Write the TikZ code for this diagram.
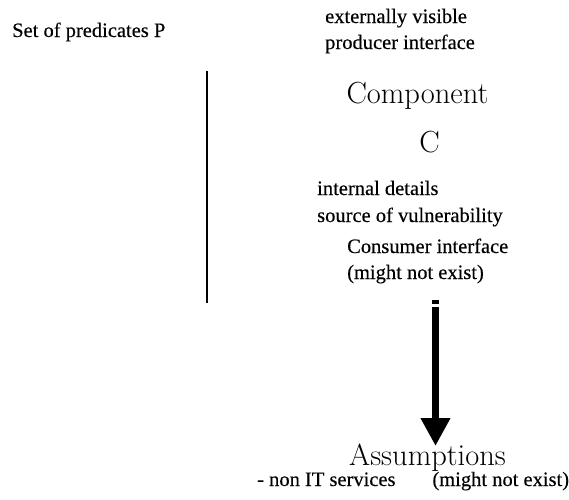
\documentclass[tikz,border=0pt]{standalone}
\usepackage{fontspec}
\newfontfamily\smallserif[FakeBold=0.3]{Liberation Serif}
\usetikzlibrary{arrows.meta}
\tikzset{
  smalltext/.style={inner sep=0pt, anchor=base west, align=left,
    font=\smallserif\fontsize{20.5}{26}\selectfont},
  bigtext/.style={inner sep=0pt, anchor=base,
    font=\fontsize{30.5}{36}\selectfont},
  bar/.style={line width=1.5pt},
  bigarrow/.style={line width=7pt, -{Triangle[width=28pt,length=28pt]}}
}
\begin{document}
\begin{tikzpicture}[x=1pt,y=-1pt]
\useasboundingbox (0,0) rectangle (569,499);
\node[smalltext] (preds) at (12,37) {Set of predicates P};
\node[smalltext] (ext1) at (325,23) {externally visible};
\node[smalltext] (ext2) at (325,49) {producer interface};
\node[bigtext] (comp) at (417.5,103) {Component};
\node[bigtext] (cc) at (429.5,152) {C};
\node[smalltext] (int1) at (317,195) {internal details};
\node[smalltext] (int2) at (317,222) {source of vulnerability};
\node[smalltext] (cons1) at (347,253) {Consumer interface};
\node[smalltext] (cons2) at (347,279) {(might not exist)};
\node[bigtext] (assum) at (427.5,465) {Assumptions};
\node[smalltext] (nonit) at (257,486) {- non IT services\hspace{1.8em}(might not exist)};
\coordinate (ltop) at (207,71);
\coordinate (lbot) at (207,303);
\draw[bar] (ltop) -- (lbot);
\coordinate (dtop) at (435.5,300);
\coordinate (dbot) at (435.5,303.5);
\draw[line width=7pt] (dtop) -- (dbot);
\coordinate (astart) at (435.5,307);
\coordinate (aend) at (435.5,446);
\draw[bigarrow] (astart) -- (aend);
\end{tikzpicture}
\end{document}
